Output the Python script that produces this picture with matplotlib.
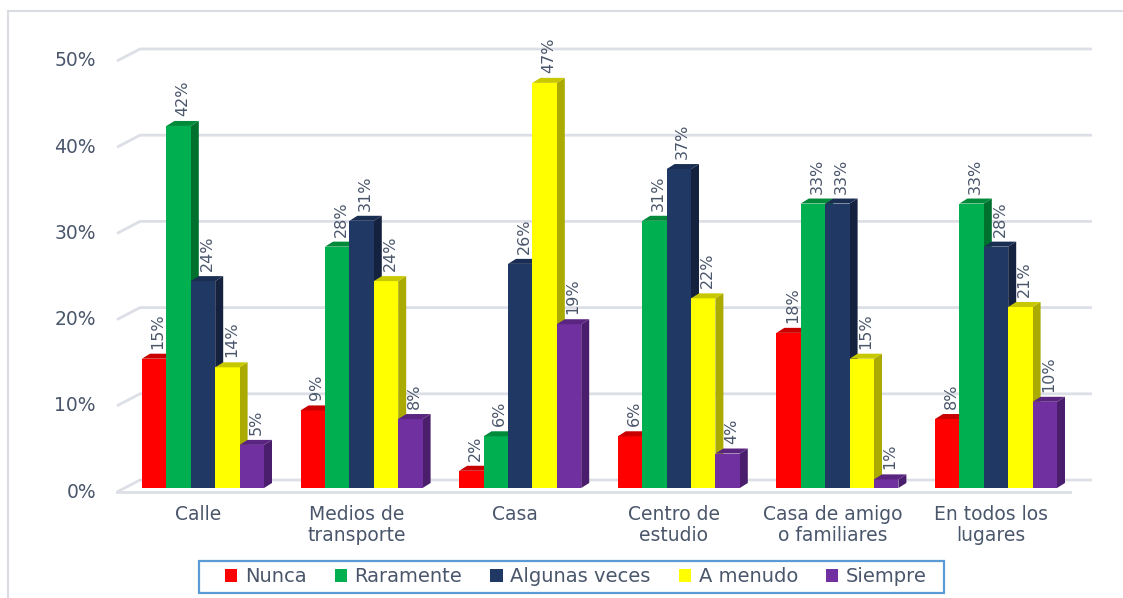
import matplotlib
matplotlib.use("Agg")
import matplotlib.pyplot as plt
from matplotlib.patches import Polygon, Patch, Rectangle
from matplotlib.lines import Line2D

# ---- data ----
categories = ["Calle", "Medios de\ntransporte", "Casa", "Centro de\nestudio",
              "Casa de amigo\no familiares", "En todos los\nlugares"]
series_names = ["Nunca", "Raramente", "Algunas veces", "A menudo", "Siempre"]
nunca = [15, 9, 2, 6, 18, 8]
raramente = [42, 28, 6, 31, 33, 33]
algunas = [24, 31, 26, 37, 33, 28]
a_menudo = [14, 24, 47, 22, 15, 21]
siempre = [5, 8, 19, 4, 1, 10]
series_values = [nunca, raramente, algunas, a_menudo, siempre]
yticks = [0, 10, 20, 30, 40, 50]
ytick_labels = ["0%", "10%", "20%", "30%", "40%", "50%"]

# ---- style ----
front_colors = ["#FF0000", "#00B050", "#203864", "#FFFF00", "#7030A0"]
side_colors = ["#B00000", "#00702F", "#14223F", "#AAAA00", "#4A1E6C"]
top_colors = ["#C80000", "#008A3A", "#1A2D52", "#C8C800", "#5A2580"]
text_color = "#4A566B"
grid_color = "#DCDFE5"

W, H = 1123, 598
fig = plt.figure(figsize=(W / 100, H / 100), dpi=100)
ax = fig.add_axes([0, 0, 1, 1])

# pixel -> data mapping (styling only)
X0PX, XSTEP = 203.0, 158.6
Y0PX, YSTEP = 488.0, 8.62
PXX = 1.0 / XSTEP
PXY = 1.0 / YSTEP
ax.set_xlim((0 - X0PX) * PXX, (W - X0PX) * PXX)
ax.set_ylim((Y0PX - H) * PXY, Y0PX * PXY)
ax.axis("off")

n_groups = len(categories)
n_series = len(series_values)
bw = 24.4 * PXX
dx, dy = 8 * PXX, 5 * PXY

# ---- grid (pseudo 3D walls) ----
front_left = (117 - X0PX) * PXX
back_dx, back_dy = 23 * PXX, 12 * PXY
front_off = -4 * PXY
back_right = (1092 - X0PX) * PXX
front_right = (1070 - X0PX) * PXX
for v in yticks:
    yf = v + front_off
    yb = yf + back_dy
    ax.plot([front_left, front_left + back_dx, back_right], [yf, yb, yb],
            color=grid_color, lw=2, zorder=1, solid_capstyle="butt")
ax.plot([front_left, front_right], [front_off, front_off], color=grid_color, lw=2, zorder=1)

# tick labels
for v, lab in zip(yticks, ytick_labels):
    ax.text((96 - X0PX) * PXX, v + front_off, lab, ha="right", va="center",
            fontsize=13.5, color=text_color)

# ---- bars ----
for i, vals in enumerate(series_values):
    xs = [g + (i - (n_series - 1) / 2) * bw for g in range(n_groups)]
    ax.bar(xs, vals, width=bw, color=front_colors[i], zorder=3 + i * 2, linewidth=0)
    for x, v in zip(xs, vals):
        r = x + bw / 2
        l = x - bw / 2
        ax.add_patch(Polygon([(r, 0), (r + dx, dy), (r + dx, v + dy), (r, v)],
                             closed=True, facecolor=side_colors[i], edgecolor="none",
                             zorder=2 + i * 2))
        ax.add_patch(Polygon([(l, v), (r, v), (r + dx, v + dy), (l + dx, v + dy)],
                             closed=True, facecolor=top_colors[i], edgecolor="none",
                             zorder=3 + i * 2))
        ax.annotate(f"{v}%", (x + dx / 2, v + dy), xytext=(0, 5), textcoords="offset pixels",
                    rotation=90, ha="center", va="bottom", fontsize=11.5,
                    color=text_color, zorder=20)

# category labels
for g, cat in enumerate(categories):
    ax.text(g - 5 * PXX, (Y0PX - 505) * PXY, cat, ha="center", va="top",
            fontsize=13.5, color=text_color, linespacing=1.15)

# outer frame (top and left edges visible)
fig.add_artist(Line2D([8 / W, 1.0], [1 - 11 / H, 1 - 11 / H], color="#D9DDE3", lw=1.5))
fig.add_artist(Line2D([8 / W, 8 / W], [0, 1 - 11 / H], color="#D9DDE3", lw=1.5))

# legend frame
fig.add_artist(Rectangle((199 / W, 1 - 593 / H), (944 - 199) / W, (593 - 561) / H,
                         transform=fig.transFigure, facecolor="white",
                         edgecolor="#5B9BD5", linewidth=1.6, zorder=5))

# legend
handles = [Patch(facecolor=c, edgecolor="none") for c in front_colors]
leg = fig.legend(handles, series_names, loc="center", ncol=5,
                 bbox_to_anchor=(576 / W, 1 - 577 / H), fontsize=14,
                 handlelength=0.62, handleheight=0.62, handletextpad=0.4,
                 columnspacing=1.45, borderpad=0.2, frameon=False)
leg.set_zorder(6)
for t in leg.get_texts():
    t.set_color(text_color)

fig.savefig("out.png", dpi=100)
